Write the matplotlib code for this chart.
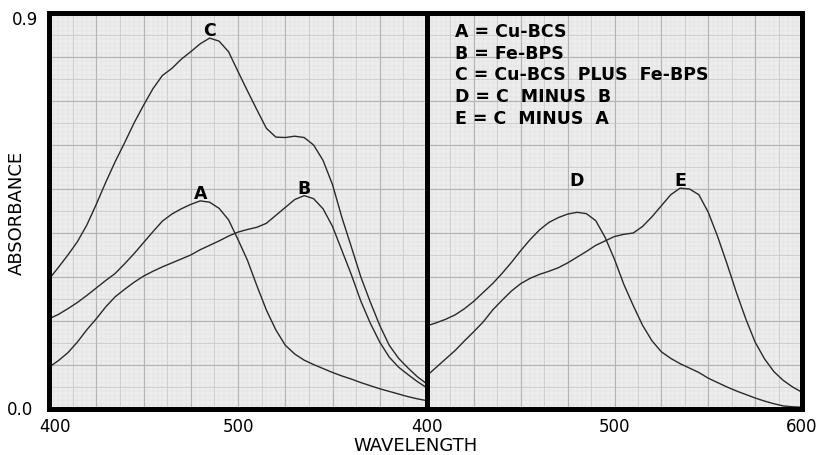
import numpy as np
import matplotlib
matplotlib.use("Agg")
import matplotlib.pyplot as plt

# ---- data ----
wl = list(range(400, 601, 5))

curve_A = [0.205, 0.215, 0.228, 0.242, 0.258, 0.275, 0.292, 0.308, 0.330, 0.353,
           0.378, 0.403, 0.427, 0.443, 0.455, 0.465, 0.473, 0.470, 0.456, 0.430,
           0.385, 0.338, 0.280, 0.225, 0.180, 0.145, 0.125, 0.111, 0.101, 0.092,
           0.083, 0.075, 0.068, 0.060, 0.053, 0.046, 0.040, 0.034, 0.028, 0.023, 0.019]
curve_B = [0.095, 0.110, 0.128, 0.152, 0.180, 0.205, 0.232, 0.255, 0.272, 0.288,
           0.302, 0.313, 0.323, 0.332, 0.341, 0.350, 0.362, 0.372, 0.382, 0.393,
           0.402, 0.408, 0.413, 0.422, 0.440, 0.458, 0.476, 0.485, 0.478, 0.455,
           0.415, 0.360, 0.305, 0.245, 0.195, 0.152, 0.118, 0.095, 0.078, 0.062, 0.048]
curve_C = [0.295, 0.322, 0.350, 0.380, 0.418, 0.465, 0.515, 0.562, 0.605, 0.650,
           0.690, 0.728, 0.758, 0.774, 0.795, 0.812, 0.830, 0.843, 0.836, 0.812,
           0.767, 0.723, 0.680, 0.638, 0.618, 0.617, 0.620, 0.617, 0.600, 0.565,
           0.510, 0.435, 0.368, 0.300, 0.243, 0.190, 0.145, 0.115, 0.093, 0.073, 0.057]
curve_D = [0.189, 0.196, 0.204, 0.214, 0.228, 0.245, 0.265, 0.285, 0.308, 0.333,
           0.360, 0.385, 0.407, 0.424, 0.435, 0.443, 0.447, 0.444, 0.428, 0.390,
           0.340, 0.283, 0.235, 0.190, 0.155, 0.130, 0.115, 0.103, 0.093, 0.083,
           0.070, 0.060, 0.050, 0.041, 0.033, 0.025, 0.018, 0.012, 0.007, 0.005, 0.004]
curve_E = [0.076, 0.095, 0.114, 0.133, 0.155, 0.176, 0.198, 0.225, 0.247, 0.268,
           0.285, 0.297, 0.306, 0.313, 0.321, 0.332, 0.345, 0.358, 0.372, 0.382,
           0.392, 0.397, 0.400, 0.415, 0.437, 0.462, 0.487, 0.502, 0.500, 0.487,
           0.447, 0.392, 0.330, 0.265, 0.205, 0.152, 0.114, 0.085, 0.065, 0.050, 0.038]

left_series = [("C", curve_C), ("A", curve_A), ("B", curve_B)]
right_series = [("D", curve_D), ("E", curve_E)]

legend_lines = ["A = Cu-BCS", "B = Fe-BPS", "C = Cu-BCS  PLUS  Fe-BPS",
                "D = C  MINUS  B", "E = C  MINUS  A"]

x_ticks_left = [400, 500]
x_ticks_right = [400, 500, 600]
y_tick_labels = ["0.0", "0.9"]

# ---- figure ----
W, H = 821, 456
fig = plt.figure(figsize=(W / 100, H / 100), dpi=100)
fig.patch.set_facecolor("white")

ax_bottom = (456 - 410) / H
ax_h = 396 / H
axL = fig.add_axes([49 / W, ax_bottom, 378 / W, ax_h])
axR = fig.add_axes([427 / W, ax_bottom, 375 / W, ax_h])

font = "DejaVu Sans"
line_color = "#2a2a2a"

for ax in (axL, axR):
    ax.set_xlim(400, 600)
    ax.set_ylim(0, 0.9)
    ax.set_facecolor("#ededed")
    # graph paper grid
    for xv in np.arange(400, 600.1, 2.5):
        ax.axvline(xv, color="#e0e0e0", lw=0.35, zorder=0)
    for yv in np.arange(0, 0.901, 0.01):
        ax.axhline(yv, color="#e0e0e0", lw=0.35, zorder=0)
    for xv in np.arange(412.5, 600, 25):
        ax.axvline(xv, color="#cccccc", lw=0.6, zorder=0.5)
    for yv in np.arange(0.05, 0.9, 0.1):
        ax.axhline(yv, color="#cccccc", lw=0.6, zorder=0.5)
    for xv in np.arange(425, 600, 25):
        ax.axvline(xv, color="#b4b4b4", lw=0.85, zorder=0.6)
    for yv in np.arange(0.1, 0.9, 0.1):
        ax.axhline(yv, color="#b4b4b4", lw=0.85, zorder=0.6)
    ax.set_xticks([])
    ax.set_yticks([])
    for s in ax.spines.values():
        s.set_linewidth(3.6)
        s.set_color("black")
        s.set_zorder(5)

def plot_panel(ax, series, same_height=False):
    top = max(max(v) for _, v in series)
    for name, vals in series:
        v = np.array(vals)
        ax.plot(wl, v, color=line_color, lw=1.0, zorder=3, solid_joinstyle="round")
        i = int(np.argmax(v))
        y = (top if same_height else v[i]) + 0.018
        ax.text(wl[i], y, name, ha="center", va="center",
                fontsize=12.5, fontweight="bold", family=font, zorder=4)

plot_panel(axL, left_series)
plot_panel(axR, right_series, same_height=True)

# legend text
for k, t in enumerate(legend_lines):
    axR.text(0.075, 0.955 - k * 0.055, t, transform=axR.transAxes, ha="left", va="center",
             fontsize=12.5, fontweight="bold", family=font, zorder=4)

# tick labels
tick_fs = 12
for xv in x_ticks_left:
    xx = xv + (3 if xv == 400 else 0)
    axL.text(xx, -0.018, str(xv), ha="center", va="top", fontsize=tick_fs, family=font,
             clip_on=False)
for xv in x_ticks_right:
    axR.text(xv, -0.018, str(xv), ha="center", va="top", fontsize=tick_fs, family=font,
             clip_on=False)
axL.text(-0.042, 0.0, y_tick_labels[0], transform=axL.transAxes, ha="right", va="center",
         fontsize=tick_fs, family=font)
axL.text(-0.029, 0.985, y_tick_labels[1], transform=axL.transAxes, ha="right", va="center",
         fontsize=tick_fs, family=font)

fig.text(17 / W, 1 - 213 / H, "ABSORBANCE", rotation=90, ha="center", va="center",
         fontsize=13, family=font)
fig.text(416 / W, 1 - 446 / H, "WAVELENGTH", ha="center", va="center",
         fontsize=13, family=font)

fig.savefig("out.png", dpi=100, facecolor="white")
